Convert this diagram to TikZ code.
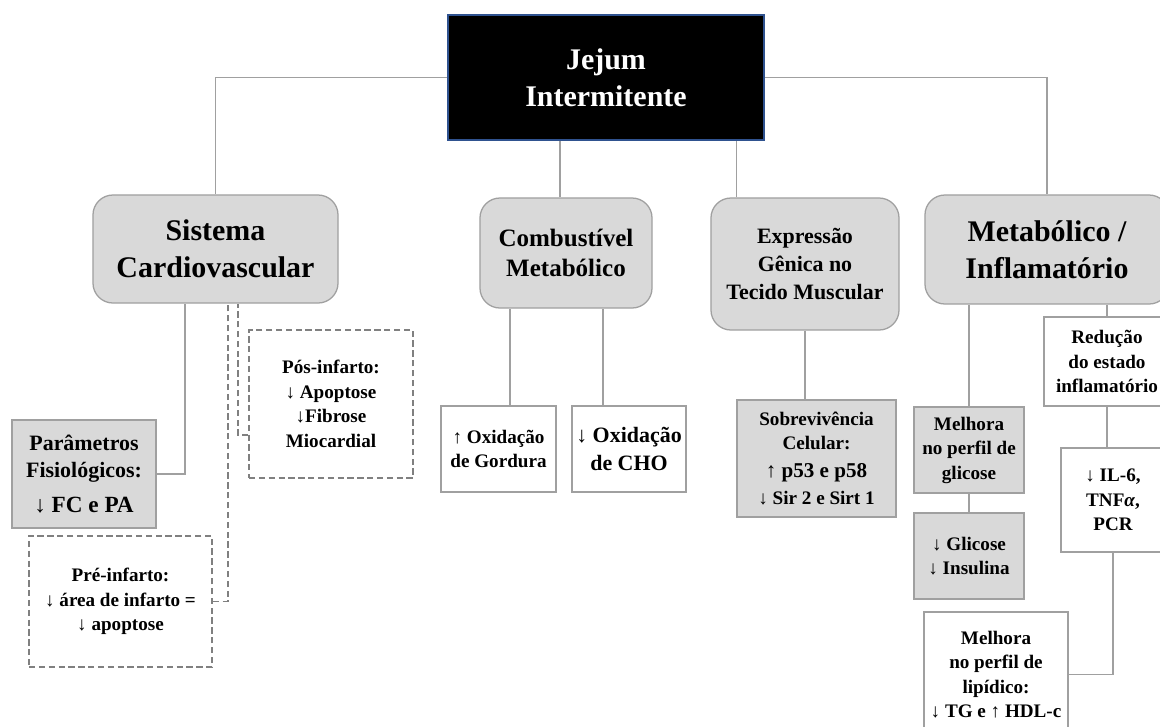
\documentclass[tikz,border=0pt]{standalone}
\usepackage{fontspec}
\setmainfont{Liberation Serif}
\usepackage{xcolor}
\usepackage{tikz}
\usetikzlibrary{shapes,arrows,positioning}

\definecolor{boxgray}{RGB}{217,217,217}
\definecolor{linegray}{RGB}{160,160,160}
\definecolor{dashgray}{RGB}{128,128,128}
\definecolor{rootblue}{RGB}{47,82,143}

\newcommand{\hugefont}{\fontsize{21.3}{26.3}\selectfont\bfseries}
\newcommand{\midfont}{\fontsize{17.8}{21.3}\selectfont\bfseries}
\newcommand{\smlfont}{\fontsize{15.6}{19.6}\selectfont\bfseries}
\newcommand{\leaffont}{\fontsize{13.6}{17.4}\selectfont\bfseries}

\begin{document}
\begin{tikzpicture}[x=0.025cm, y=-0.025cm,
    conn/.style={draw=linegray, line width=1.1pt},
    dashconn/.style={draw=dashgray, line width=1.1pt, dash pattern=on 4.5pt off 2.5pt},
    mainbox/.style={rectangle, rounded corners=0.5cm, fill=boxgray, draw=linegray, line width=0.9pt, align=center, inner sep=0pt},
    graybox/.style={rectangle, fill=boxgray, draw=linegray, line width=0.9pt, align=center, inner sep=0pt, font=\leaffont},
    whitebox/.style={rectangle, fill=white, draw=linegray, line width=0.9pt, align=center, inner sep=0pt, font=\leaffont},
    dashbox/.style={rectangle, draw=dashgray, line width=1.1pt, dash pattern=on 4.5pt off 2.5pt, align=center, inner sep=0pt, font=\leaffont}]
    \clip (0,0) rectangle (1160,726);

    % Root
    \node[rectangle, fill=black, draw=rootblue, line width=0.8pt, minimum width=7.9cm, minimum height=3.125cm,
          align=center, text=white, font=\hugefont] (root) at (606,77.5) {Jejum\\Intermitente};

    % Areas
    \node[mainbox, minimum width=6.125cm, minimum height=2.7cm, font=\hugefont] (cardio) at (215.5,249) {Sistema\\Cardiovascular};
    \node[mainbox, minimum width=4.3cm, minimum height=2.75cm, font=\midfont] (combust) at (566,253) {Combustível\\Metabólico};
    \node[mainbox, minimum width=4.7cm, minimum height=3.3cm, font=\smlfont] (express) at (805,264) {Expressão\\Gênica no\\Tecido Muscular};
    \node[mainbox, minimum width=6.1cm, minimum height=2.725cm, font=\hugefont] (metab) at (1047,249.5) {Metabólico /\\Inflamatório};

    % Cardiovascular effects
    \node[graybox, minimum width=3.6cm, minimum height=2.7cm, font=\smlfont] (param) at (84,474)
        {Parâmetros\\Fisiológicos:\\[5pt]{\fontsize{16.5}{19}\selectfont ↓ FC e PA}};
    \node[dashbox, minimum width=4.1cm, minimum height=3.7cm] (pos) at (331,404) {Pós-infarto:\\↓ Apoptose\\↓Fibrose\\Miocardial};
    \node[dashbox, minimum width=4.575cm, minimum height=3.275cm] (pre) at (120.5,601.5) {Pré-infarto:\\↓ área de infarto =\\↓ apoptose};

    % Fuel effects
    \node[whitebox, minimum width=2.875cm, minimum height=2.15cm] (gord) at (498.5,449) {↑ Oxidação\\de Gordura};
    \node[whitebox, minimum width=2.85cm, minimum height=2.15cm, font=\smlfont] (cho) at (629,449) {↓ Oxidação\\de CHO};

    % Gene expression effects
    \node[graybox, minimum width=3.975cm, minimum height=2.925cm] (sobrev) at (816.5,458.5)
        {Sobrevivência\\Celular:\\[2pt]{\fontsize{15}{18}\selectfont ↑ p53 e p58}\\[2pt]↓ Sir 2 e Sirt 1};

    % Metabolic / inflammatory effects
    \node[graybox, minimum width=2.75cm, minimum height=2.15cm] (gliper) at (969,450) {Melhora\\no perfil de\\glicose};
    \node[graybox, minimum width=2.75cm, minimum height=2.15cm] (glicins) at (969,556) {↓ Glicose\\↓ Insulina};
    \node[whitebox, minimum width=3.15cm, minimum height=2.225cm] (reducao) at (1107,361.5) {Redução\\do estado\\inflamatório};
    \node[whitebox, minimum width=2.6cm, minimum height=2.6cm] (il6) at (1113,500) {↓ IL-6,\\TNF\textit{α},\\PCR};
    \node[whitebox, minimum width=3.6cm, minimum height=3.125cm] (lipid) at (996,674.5) {Melhora\\no perfil de\\lipídico:\\↓ TG e ↑ HDL-c};

    % Root to areas
    \draw[conn] (root.west) -| (cardio.north);
    \draw[conn] (root.east) -| (metab.north);
    \coordinate (combtop) at ([xshift=-0.15cm]combust.north);
    \draw[conn] (combtop) -- (combtop |- root.south);
    \coordinate (exptop) at ([xshift=0.65cm]express.north west);
    \draw[conn] (exptop) -- (exptop |- root.south);

    % Cardiovascular branch
    \coordinate (cvsolid) at ([xshift=-0.76cm]cardio.south);
    \draw[conn] (param.east) -| (cvsolid);
    \coordinate (cvpre) at ([xshift=0.31cm]cardio.south);
    \coordinate (cvpos) at ([xshift=0.56cm]cardio.south);
    \coordinate (posin) at ([yshift=-0.78cm]pos.west);
    \draw[dashconn] (pre.east) -| (cvpre);
    \draw[dashconn] (posin) -| (cvpos);

    % Fuel branch
    \coordinate (gordtop) at ([xshift=0.29cm]gord.north);
    \draw[conn] (gordtop) -- (gordtop |- combust.south);
    \coordinate (chotop) at ([xshift=-0.65cm]cho.north);
    \draw[conn] (chotop) -- (chotop |- combust.south);

    % Gene expression branch
    \draw[conn] (express.south) -- (express.south |- sobrev.north);

    % Metabolic branch
    \draw[conn] (gliper.north) -- (gliper.north |- metab.south);
    \draw[conn] (gliper.south) -- (glicins.north);
    \draw[conn] (reducao.north) -- (reducao.north |- metab.south);
    \draw[conn] (reducao.south) -- (reducao.south |- il6.north);
    \draw[conn] (il6.south) |- (lipid.east);
\end{tikzpicture}
\end{document}
